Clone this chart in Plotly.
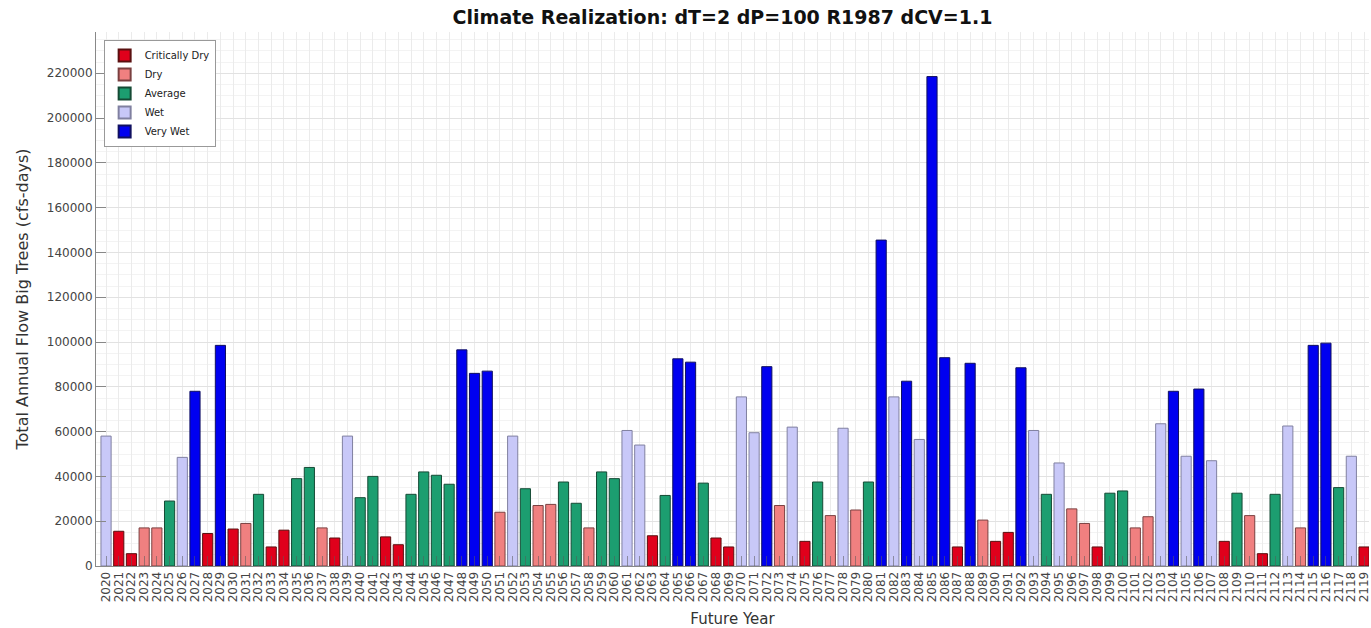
import plotly.graph_objects as go

years = list(range(2020, 2120))
flows = [58000, 15500, 5500, 17000, 17000, 29000, 48500, 78000, 14500, 98500,
         16500, 19000, 32000, 8500, 16000, 39000, 44000, 17000, 12500, 58000,
         30500, 40000, 13000, 9500, 32000, 42000, 40500, 36500, 96500, 86000,
         87000, 24000, 58000, 34500, 27000, 27500, 37500, 28000, 17000, 42000,
         39000, 60500, 54000, 13500, 31500, 92500, 91000, 37000, 12500, 8500,
         75500, 59500, 89000, 27000, 62000, 11000, 37500, 22500, 61500, 25000,
         37500, 145500, 75500, 82500, 56500, 218500, 93000, 8500, 90500, 20500,
         11000, 15000, 88500, 60500, 32000, 46000, 25500, 19000, 8500, 32500,
         33500, 17000, 22000, 63500, 78000, 49000, 79000, 47000, 11000, 32500,
         22500, 5500, 32000, 62500, 17000, 98500, 99500, 35000, 49000, 8500]
classes = ["W", "CD", "CD", "D", "D", "A", "W", "VW", "CD", "VW",
           "CD", "D", "A", "CD", "CD", "A", "A", "D", "CD", "W",
           "A", "A", "CD", "CD", "A", "A", "A", "A", "VW", "VW",
           "VW", "D", "W", "A", "D", "D", "A", "A", "D", "A",
           "A", "W", "W", "CD", "A", "VW", "VW", "A", "CD", "CD",
           "W", "W", "VW", "D", "W", "CD", "A", "D", "W", "D",
           "A", "VW", "W", "VW", "W", "VW", "VW", "CD", "VW", "D",
           "CD", "CD", "VW", "W", "A", "W", "D", "D", "CD", "A",
           "A", "D", "D", "W", "VW", "W", "VW", "W", "CD", "A",
           "D", "CD", "A", "W", "D", "VW", "VW", "A", "W", "CD"]

cat_keys = ["CD", "D", "A", "W", "VW"]
cat_names = ["Critically Dry", "Dry", "Average", "Wet", "Very Wet"]
cat_colors = ["#e0001b", "#f08080", "#1c9e70", "#c8c8f8", "#0000f0"]
cat_lines = ["#5a1010", "#7a4040", "#154a35", "#8080a0", "#101060"]

font_family = "DejaVu Sans"

fig = go.Figure()
for key, name, color, lc in zip(cat_keys, cat_names, cat_colors, cat_lines):
    xs = [y for y, c in zip(years, classes) if c == key]
    vs = [v for v, c in zip(flows, classes) if c == key]
    fig.add_trace(go.Bar(x=xs, y=vs, name=name, width=0.8,
                         marker=dict(color=color, line=dict(color=lc, width=1))))

fig.update_layout(
    width=1371, height=628,
    margin=dict(l=96, r=0, t=32, b=62),
    barmode="overlay",
    plot_bgcolor="white", paper_bgcolor="white",
    font=dict(family=font_family, color="#333333"),
    title=dict(text="<b>Climate Realization: dT=2 dP=100 R1987 dCV=1.1</b>",
               x=0.527, xanchor="center", y=0.972, yanchor="middle",
               font=dict(size=19, color="#111111", family=font_family)),
    legend=dict(x=0.006, y=0.985, xanchor="left", yanchor="top",
                bgcolor="white", bordercolor="#999999", borderwidth=1,
                font=dict(size=10, color="#222222"), tracegroupgap=0,
                itemsizing="constant", itemwidth=30),
    showlegend=True,
)

fig.update_xaxes(
    range=[2019.21, 2119.39],
    tickmode="array", tickvals=years, ticktext=[str(y) for y in years],
    tickangle=-90, tickfont=dict(size=12, color="#444444"),
    ticklabeloverflow="allow",
    ticks="inside", ticklen=10, tickcolor="rgba(90,90,90,0.55)",
    showgrid=True, gridcolor="#ebebeb", gridwidth=1,
    showline=True, linecolor="#888888", linewidth=1,
    title=dict(text="Future Year", font=dict(size=15, color="#333333"), standoff=13),
    zeroline=False,
)
fig.update_yaxes(
    range=[0, 238400], dtick=20000, tick0=0, tickformat="d",
    tickfont=dict(size=12, color="#444444"),
    ticks="inside", ticklen=10, tickcolor="#888888",
    showgrid=True, gridcolor="#e2e2e2", gridwidth=1,
    minor=dict(dtick=5000, showgrid=True, gridcolor="#f3f3f3", gridwidth=1),
    showline=True, linecolor="#888888", linewidth=1,
    title=dict(text="Total Annual Flow Big Trees (cfs-days)",
               font=dict(size=16, color="#333333"), standoff=14),
    zeroline=False,
)

fig.write_html("out.html")
